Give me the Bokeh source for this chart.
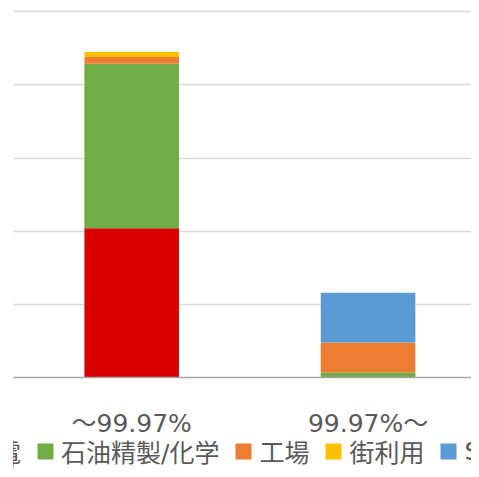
from bokeh.plotting import figure
from bokeh.layouts import column
from bokeh.models import ColumnDataSource, Range1d, FixedTicker, Legend, LegendItem
from bokeh.embed import file_html
from bokeh.resources import INLINE

categories = ["～99.97%", "99.97%～"]
series_names = ["発電", "石油精製/化学", "工場", "街利用", "ST"]
hatsuden = [2.04, 0.0]
sekiyu = [2.25, 0.07]
kojo = [0.09, 0.41]
machi = [0.07, 0.0]
st = [0.0, 0.68]
colors = ["#d90000", "#70ad47", "#ed7d31", "#ffc000", "#5b9bd5"]
grid_ticks = [0, 1, 2, 3, 4, 5]

FONT = "DejaVu Sans, Noto Sans CJK JP"

x = list(range(len(categories)))
keys = ["s0", "s1", "s2", "s3", "s4"]
src = ColumnDataSource(dict(x=x, s0=hatsuden, s1=sekiyu, s2=kojo, s3=machi, s4=st))

# main chart
p = figure(width=471, height=440, output_backend="svg", toolbar_location=None,
           x_range=Range1d(-0.5, 1.4376), y_range=Range1d(0, 5.03),
           min_border_left=13, min_border_right=0, min_border_top=9, min_border_bottom=62)
p.outline_line_color = None
p.background_fill_color = "white"
p.border_fill_color = "white"

renderers = p.vbar_stack(keys, x="x", width=0.4, color=colors, line_color=None, source=src)

p.yaxis.visible = False
p.xgrid.visible = False
p.ygrid.ticker = FixedTicker(ticks=grid_ticks)
p.ygrid.grid_line_color = "#d9d9d9"
p.ygrid.grid_line_width = 1.5

p.xaxis.ticker = FixedTicker(ticks=x)
p.xaxis.major_label_overrides = {i: c for i, c in zip(x, categories)}
p.xaxis.major_tick_line_color = None
p.xaxis.minor_tick_line_color = None
p.xaxis.major_tick_out = 0
p.xaxis.major_label_standoff = 31
p.xaxis.axis_line_color = "#a6a6a6"
p.xaxis.axis_line_width = 1.5
p.xaxis.major_label_text_font = FONT
p.xaxis.major_label_text_font_size = "25px"
p.xaxis.major_label_text_color = "#595959"

# legend strip (its own canvas so that the legend is only cut at the page edges)
lg = figure(width=471, height=29, output_backend="svg", toolbar_location=None,
            x_range=Range1d(10, 11), y_range=Range1d(0, 1),
            x_axis_location=None, y_axis_location=None,
            min_border=0, min_border_left=0, min_border_right=0,
            min_border_top=0, min_border_bottom=0)
lg.outline_line_color = None
lg.grid.visible = False
lg_renderers = lg.vbar_stack(keys, x="x", width=0.4, color=colors, line_color=None, source=src)

items = [LegendItem(label=n, renderers=[r]) for n, r in zip(series_names, lg_renderers)]
legend = Legend(items=items, orientation="horizontal", location=(-68, 0),
                glyph_width=20, glyph_height=20, label_standoff=6, spacing=14,
                padding=0, margin=0, border_line_color=None, background_fill_alpha=0,
                label_text_font=FONT, label_text_font_size="25px",
                label_text_color="#595959")
lg.add_layout(legend)

layout = column(p, lg, spacing=0)
open("out.html", "w").write(file_html(layout, INLINE))
